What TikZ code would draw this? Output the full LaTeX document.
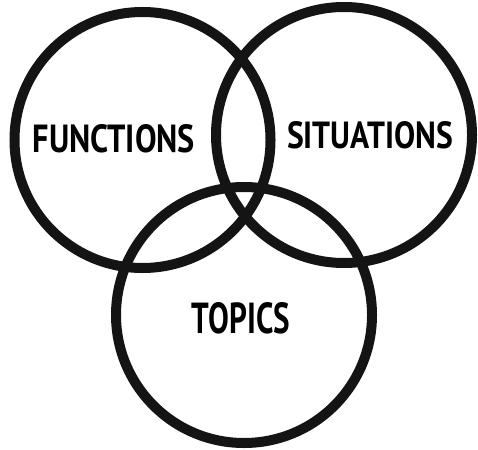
\documentclass[tikz,border=0pt]{standalone}
\usepackage{fontspec}
\setmainfont{PT Sans}
\usepackage{graphicx}
\begin{document}
\begin{tikzpicture}[x=1pt,y=-1pt,
  ring/.style={draw=black!92,line width=10pt},
  lbl/.style={inner sep=0pt,font=\bfseries}]
\useasboundingbox (0,0) rectangle (478,449);
\node[ring,circle,minimum size=256pt,inner sep=0pt] (fun) at (142.5,140) {};
\node[ring,circle,minimum size=256pt,inner sep=0pt] (sit) at (344,135) {};
\node[ring,circle,minimum size=256pt,inner sep=0pt] (top) at (244,315) {};
\node[lbl] (tfun) at (114,139) {\resizebox{162pt}{28pt}{FUNCTIONS}};
\node[lbl] (tsit) at (370,135) {\resizebox{166pt}{27pt}{SITUATIONS}};
\node[lbl] (ttop) at (241,318) {\resizebox{98pt}{31pt}{TOPICS}};
\end{tikzpicture}
\end{document}
